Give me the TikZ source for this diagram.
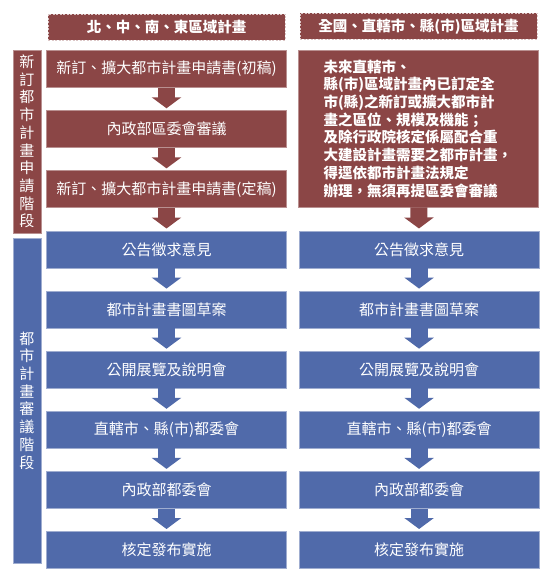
\documentclass[tikz,border=0pt]{standalone}
\usepackage{fontspec}
\setmainfont{Noto Sans CJK TC}
\usetikzlibrary{arrows.meta,positioning}

\definecolor{planred}{RGB}{139,70,70}
\definecolor{planblue}{RGB}{80,106,170}

\begin{document}
\begin{tikzpicture}[x=1pt, y=-1pt,
    stepbox/.style={minimum width=240pt, minimum height=37pt, inner sep=0pt, text=white, line width=0.6pt,
      font=\fontsize{15}{18}\selectfont},
    redbox/.style={stepbox, fill=planred, draw=planred!60!white},
    bluebox/.style={stepbox, fill=planblue, draw=planblue!55!white},
    headbox/.style={redbox, minimum width=237pt, minimum height=26pt, draw=white!70!planred,
      dash pattern=on 2pt off 1.5pt, font=\bfseries\fontsize{14.5}{18}\selectfont},
    sidebox/.style={minimum width=28pt, inner sep=0pt, text=white, align=center, line width=0.6pt,
      font=\fontsize{15}{17.7}\selectfont},
    redflow/.style={planred, line width=17pt, -{Triangle[length=11pt, width=29pt]}, shorten >=2pt},
    blueflow/.style={redflow, planblue}]

  % Frame
  \useasboundingbox (0,0) rectangle (550,578);

  % Left column
  \node[redbox] (l1) at (166.5,69) {新訂、擴大都市計畫申請書(初稿)};
  \node[redbox, below=22.5pt of l1] (l2) {內政部區委會審議};
  \node[redbox, below=22.5pt of l2] (l3) {新訂、擴大都市計畫申請書(定稿)};
  \node[bluebox, below=22.5pt of l3] (l4) {公告徵求意見};
  \node[bluebox, below=22.5pt of l4] (l5) {都市計畫書圖草案};
  \node[bluebox, below=22.5pt of l5] (l6) {公開展覽及說明會};
  \node[bluebox, below=22.5pt of l6] (l7) {直轄市、縣(市)都委會};
  \node[bluebox, below=22.5pt of l7] (l8) {內政部都委會};
  \node[bluebox, below=22.5pt of l8] (l9) {核定發布實施};

  % Right column
  \node[redbox, minimum height=157pt, text width=190pt, align=left,
    font=\bfseries\fontsize{14.5}{17.7}\selectfont] (r0) at (418.5,128.5)
    {未來直轄市、\\縣(市)區域計畫內已訂定全\\市(縣)之新訂或擴大都市計\\畫之區位、規模及機能；\\
     及除行政院核定係屬配合重\\大建設計畫需要之都市計畫，\\得逕依都市計畫法規定\\辦理，無須再提區委會審議};
  \node[bluebox, right=12pt of l4] (r4) {公告徵求意見};
  \node[bluebox, right=12pt of l5] (r5) {都市計畫書圖草案};
  \node[bluebox, right=12pt of l6] (r6) {公開展覽及說明會};
  \node[bluebox, right=12pt of l7] (r7) {直轄市、縣(市)都委會};
  \node[bluebox, right=12pt of l8] (r8) {內政部都委會};
  \node[bluebox, right=12pt of l9] (r9) {核定發布實施};

  % Headers
  \node[headbox, above=10pt of l1] (hl) {北、中、南、東區域計畫};
  \node[headbox, above=10pt of r0] (hr) {全國、直轄市、縣(市)區域計畫};

  % Stages
  \node[sidebox, fill=planred, draw=planred!60!white, minimum height=183pt] (sred) at (27,141.5)
    {新\\訂\\都\\市\\計\\畫\\申\\請\\階\\段};
  \node[sidebox, fill=planblue, draw=planblue!55!white, minimum height=325pt] (sblue) at (27,400.5)
    {都\\市\\計\\畫\\審\\議\\階\\段};

  % Arrows
  \draw[redflow] (l1) -- (l2);
  \draw[redflow] (l2) -- (l3);
  \draw[redflow] (l3) -- (l4);
  \draw[blueflow] (l4) -- (l5);
  \draw[blueflow] (l5) -- (l6);
  \draw[blueflow] (l6) -- (l7);
  \draw[blueflow] (l7) -- (l8);
  \draw[blueflow] (l8) -- (l9);
  \draw[redflow] (r0) -- (r4);
  \draw[blueflow] (r4) -- (r5);
  \draw[blueflow] (r5) -- (r6);
  \draw[blueflow] (r6) -- (r7);
  \draw[blueflow] (r7) -- (r8);
  \draw[blueflow] (r8) -- (r9);

\end{tikzpicture}
\end{document}
